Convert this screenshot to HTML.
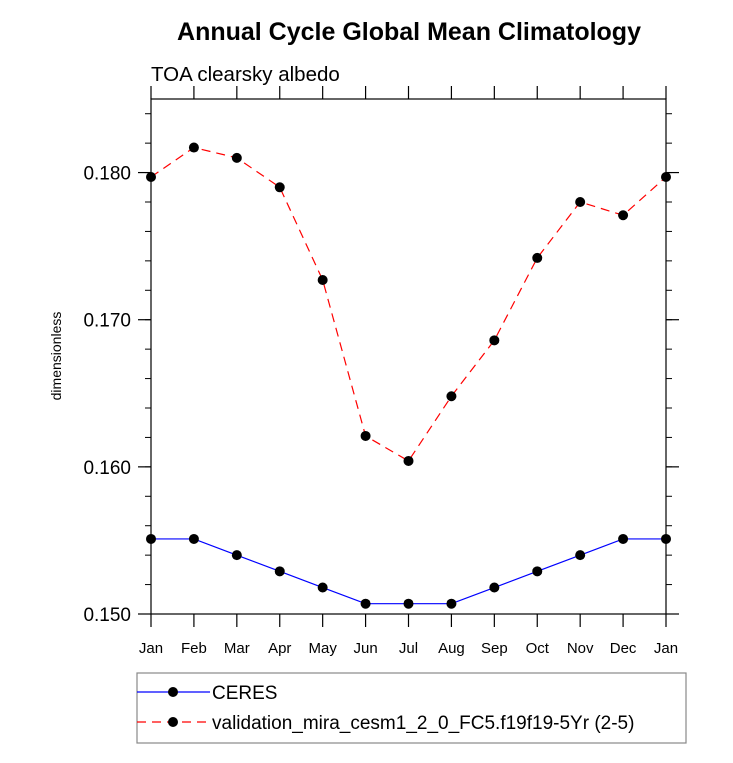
<!DOCTYPE html>
<html><head><meta charset="utf-8"><style>
body{margin:0;background:#fff;}
svg{display:block;font-family:"Liberation Sans",Arial,sans-serif;}
</style></head><body>
<svg id="chart" width="733" height="763">
<text x="409" y="40" text-anchor="middle" font-size="25" font-weight="bold">Annual Cycle Global Mean Climatology</text>
<text x="151" y="81" font-size="20.5">TOA clearsky albedo</text>
<text transform="translate(61,356) rotate(-90)" text-anchor="middle" font-size="14">dimensionless</text>
<g id="axes"></g>
<g id="series"></g>
<g>
<rect x="137" y="673" width="549" height="70" fill="none" stroke="#888" stroke-width="1.2"/>
<g>
<line x1="137" y1="692" x2="210" y2="692" stroke="#0000ff" stroke-width="1.2"/>
<circle cx="173" cy="692" r="5" fill="#000"/>
<text x="212" y="699" font-size="19">CERES</text>
</g>
<g>
<line x1="137" y1="722" x2="210" y2="722" stroke="#ff0000" stroke-width="1.2" stroke-dasharray="9,6"/>
<circle cx="173" cy="722" r="5" fill="#000"/>
<text x="212" y="729" font-size="19">validation_mira_cesm1_2_0_FC5.f19f19-5Yr (2-5)</text>
</g>
</g>
</svg>
<script>
const months=["Jan","Feb","Mar","Apr","May","Jun","Jul","Aug","Sep","Oct","Nov","Dec","Jan"];
const ceres=[0.1551,0.1551,0.1540,0.1529,0.1518,0.1507,0.1507,0.1507,0.1518,0.1529,0.1540,0.1551,0.1551];
const model=[0.1797,0.1817,0.1810,0.1790,0.1727,0.1621,0.1604,0.1648,0.1686,0.1742,0.1780,0.1771,0.1797];
const yTicks=[0.150,0.160,0.170,0.180];
const yTickLabels=["0.150","0.160","0.170","0.180"];
const NS="http://www.w3.org/2000/svg";
const L=151,R=666,T=99,B=614,yMin=0.150,yMax=0.185;
const xs=i=>L+(R-L)*i/(months.length-1);
const ys=v=>B-(v-yMin)/(yMax-yMin)*(B-T);
function mk(tag,at,parent){const e=document.createElementNS(NS,tag);for(const k in at)e.setAttribute(k,at[k]);parent.appendChild(e);return e;}
const ax=document.getElementById('axes');
const frame=mk('rect',{x:L,y:T,width:R-L,height:B-T,fill:'none',stroke:'#000','stroke-width':1.2},ax);


months.forEach((m,i)=>{
  const x=xs(i);
  mk('line',{x1:x,y1:B,x2:x,y2:B+13,stroke:'#000','stroke-width':1.2},ax);
  mk('line',{x1:x,y1:T,x2:x,y2:T-13,stroke:'#000','stroke-width':1.2},ax);
  const t=mk('text',{x:x,y:B+39,'text-anchor':'middle','font-size':15},ax);
  t.textContent=m;
  
  
});
for(let k=0;k<=17;k++){
  const v=yMin+k*0.002;if(v>yMax+1e-9)break;const y=ys(v);
  mk('line',{x1:L,y1:y,x2:L-6,y2:y,stroke:'#000','stroke-width':1},ax);
  mk('line',{x1:R,y1:y,x2:R+6,y2:y,stroke:'#000','stroke-width':1},ax);
}
yTicks.forEach((v,i)=>{
  const y=ys(v);
  mk('line',{x1:L,y1:y,x2:L-13,y2:y,stroke:'#000','stroke-width':1.2},ax);
  mk('line',{x1:R,y1:y,x2:R+13,y2:y,stroke:'#000','stroke-width':1.2},ax);
  const t=mk('text',{x:L-20,y:y+7,'text-anchor':'end','font-size':19},ax);
  t.textContent=yTickLabels[i];
  
  
});
const sg=document.getElementById('series');
function series(vals,color,dash,name){
  const g=mk('g',{},sg);
  
  
  const a={points:vals.map((v,i)=>xs(i)+','+ys(v)).join(' '),fill:'none',stroke:color,'stroke-width':1.2};
  if(dash)a['stroke-dasharray']=dash;
  mk('polyline',a,g);
  vals.forEach((v,i)=>{
    const c=mk('circle',{cx:xs(i),cy:ys(v),r:5,fill:'#000'},g);
    
    
  });
}
series(ceres,'#0000ff',null,'ceres-line');
series(model,'#ff0000','9,6','validation-line');
</script>
</body></html>
